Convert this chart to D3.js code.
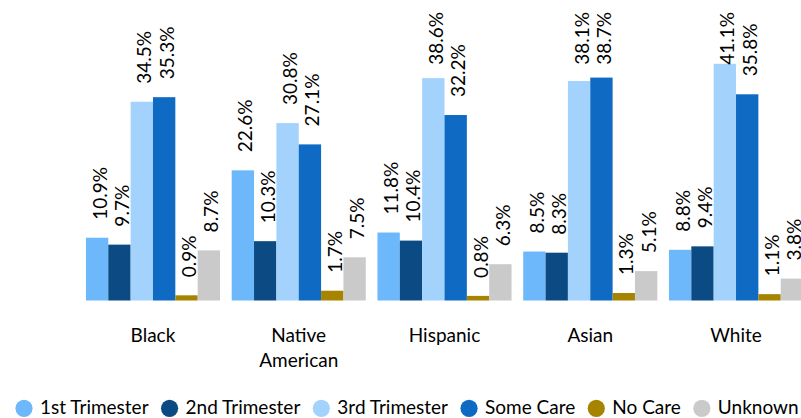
<!DOCTYPE html>
<html>
<head>
<meta charset="utf-8">
<script src="https://cdn.jsdelivr.net/npm/d3@7"></script>
<style>
  html, body { margin: 0; padding: 0; background: #fff; }
  svg text { font-family: Lato, "Open Sans", sans-serif; fill: #000; }
</style>
</head>
<body>
<div id="chart"></div>
<script>
var categories = ["Black", "Native American", "Hispanic", "Asian", "White"];
var seriesNames = ["1st Trimester", "2nd Trimester", "3rd Trimester", "Some Care", "No Care", "Unknown"];
var seriesColours = ["#6db8fb", "#0b4a82", "#a3d2fd", "#0f6ac3", "#a68400", "#cacaca"];

// one row per category, one value (%) per series
var firstTrimester = [10.9, 22.6, 11.8, 8.5, 8.8];
var secondTrimester = [9.7, 10.3, 10.4, 8.3, 9.4];
var thirdTrimester = [34.5, 30.8, 38.6, 38.1, 41.1];
var someCare = [35.3, 27.1, 32.2, 38.7, 35.8];
var noCare = [0.9, 1.7, 0.8, 1.3, 1.1];
var unknown = [8.7, 7.5, 6.3, 5.1, 3.8];

var seriesValues = [firstTrimester, secondTrimester, thirdTrimester, someCare, noCare, unknown];

var width = 801,
    height = 418;

var svg = d3.select("#chart")
    .append("svg")
    .attr("width", width)
    .attr("height", height);

var x0 = d3.scaleBand()
    .domain(categories)
    .range([80.1, 808.9])
    .paddingInner(0.08)
    .paddingOuter(0.04);

var x1 = d3.scaleBand()
    .domain(seriesNames)
    .range([0, x0.bandwidth()]);

var y = d3.scaleLinear()
    .domain([0, 50])
    .range([300.5, 12.5]);

var colour = d3.scaleOrdinal()
    .domain(seriesNames)
    .range(seriesColours);

var rows = [];
categories.forEach(function(c, i) {
    seriesNames.forEach(function(s, j) {
        rows.push({cat: c, series: s, value: seriesValues[j][i]});
    });
});

var group = svg.append("g")
    .selectAll("g")
    .data(categories)
    .enter().append("g")
    .attr("transform", function(d) { return "translate(" + x0(d) + ",0)"; });

group.selectAll("rect")
    .data(function(c) { return rows.filter(function(r) { return r.cat === c; }); })
    .enter().append("rect")
    .attr("x", function(d) { return x1(d.series); })
    .attr("y", function(d) { return y(d.value); })
    .attr("width", x1.bandwidth())
    .attr("height", function(d) { return y(0) - y(d.value); })
    .style("fill", function(d) { return colour(d.series); });

// value labels, rotated, pushed down when they would run off the top
var labels = group.selectAll("text.val")
    .data(function(c) { return rows.filter(function(r) { return r.cat === c; }); })
    .enter().append("text")
    .attr("class", "val")
    .style("font-size", "19px")
    .attr("dy", "0.5em")
    .text(function(d) { return d.value.toFixed(1) + "%"; });

labels.attr("transform", function(d) {
    var len = this.getComputedTextLength();
    var ly = Math.max(y(d.value) - 18, 12 + len);
    var lx = x1(d.series) + x1.bandwidth() / 2;
    return "translate(" + lx + "," + ly + ") rotate(-90)";
});

// category labels under the bars
var catLabel = svg.append("g")
    .selectAll("text")
    .data(categories)
    .enter().append("text")
    .attr("x", function(d) { return x0(d) + x0.bandwidth() / 2; })
    .attr("y", 342)
    .attr("text-anchor", "middle")
    .style("font-size", "19px");

catLabel.each(function(d) {
    var words = d.split(" ");
    var t = d3.select(this);
    words.forEach(function(w, i) {
        t.append("tspan")
            .attr("x", x0(d) + x0.bandwidth() / 2)
            .attr("dy", i === 0 ? 0 : 24.7)
            .text(w);
    });
});

// legend along the bottom
var legend = svg.append("g");
var lx = 24;
seriesNames.forEach(function(s) {
    legend.append("circle")
        .attr("cx", lx)
        .attr("cy", 408.3)
        .attr("r", 8.6)
        .style("fill", colour(s));
    var t = legend.append("text")
        .attr("x", lx + 16)
        .attr("y", 414)
        .style("font-size", "19px")
        .text(s);
    lx = lx + 16 + t.node().getComputedTextLength() + 21;
});
</script>
</body>
</html>
